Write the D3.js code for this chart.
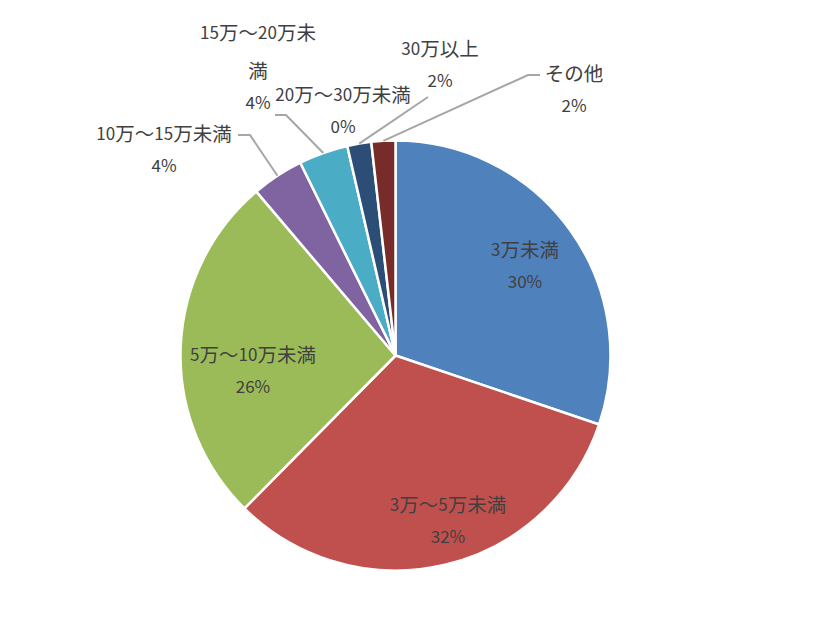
<!DOCTYPE html>
<html>
<head>
<meta charset="utf-8">
<script src="https://cdn.jsdelivr.net/npm/d3@7/dist/d3.min.js"></script>
<style>
  html, body { margin: 0; padding: 0; background: #fff; }
  svg { display: block; }
  text { font-family: "Noto Sans CJK JP", "Noto Sans", sans-serif; fill: #404040; }
</style>
</head>
<body>
<svg id="chart" width="840" height="617"></svg>
<script>
// ---- data ----
const categories = ["3万未満", "3万～5万未満", "5万～10万未満", "10万～15万未満", "15万～20万未満", "20万～30万未満", "30万以上", "その他"];
const values = [30.2, 32.2, 26.4, 3.9, 3.7, 0, 1.8, 1.8];
const percentLabels = ["30%", "32%", "26%", "4%", "4%", "0%", "2%", "2%"];
const colors = ["#4F81BD", "#C0504D", "#9BBB59", "#8064A2", "#4BACC6", "#F79646", "#2C4D75", "#772C2A"];

// ---- layout ----
const cx = 395.5, cy = 355.5, R = 215;
const labelLayout = [
  { lines: ["3万未満"], x: 525, y: 248 },
  { lines: ["3万～5万未満"], x: 448, y: 503 },
  { lines: ["5万～10万未満"], x: 253, y: 353 },
  { lines: ["10万～15万未満"], x: 164, y: 132, leader: [[238, 135], [250, 135]] },
  { lines: ["15万～20万未", "満"], x: 258, y: 31, lineGaps: [38], leader: [[275, 115], [286, 115]] },
  { lines: ["20万～30万未満"], x: 343, y: 93 },
  { lines: ["30万以上"], x: 440, y: 47, leader: [[428, 97]] },
  { lines: ["その他"], x: 574, y: 72, leader: [[540, 75], [528, 75]] }
];
const pctGap = 32;

const svg = d3.select("#chart");
const g = svg.append("g").attr("transform", `translate(${cx},${cy})`);

const pie = d3.pie().sort(null).value(d => d)(values);
const arc = d3.arc().innerRadius(0).outerRadius(R);
const edgeArc = d3.arc().innerRadius(R).outerRadius(R);

g.selectAll("path.slice")
  .data(pie.filter(d => d.value > 0))
  .join("path")
  .attr("class", "slice")
  .attr("d", arc)
  .attr("fill", d => colors[d.index])
  .attr("stroke", "#fff")
  .attr("stroke-width", 2.5)
  .attr("stroke-linejoin", "round");

// leader lines
const line = d3.line();
labelLayout.forEach((L, i) => {
  if (!L.leader) return;
  const c = edgeArc.centroid(pie[i]);
  const pts = L.leader.map(p => [p[0] - cx, p[1] - cy]).concat([[c[0], c[1]]]);
  g.append("path")
    .attr("d", line(pts))
    .attr("fill", "none")
    .attr("stroke", "#A6A6A6")
    .attr("stroke-width", 2);
});

// labels: ASCII runs smaller than CJK runs (mimics the original font metrics)
const fsAscii = 17, fsCjk = 19.5;
function addText(parent, x, y, s) {
  const t = parent.append("text")
    .attr("x", x).attr("y", y)
    .attr("text-anchor", "middle")
    .attr("dominant-baseline", "central");
  const runs = s.match(/[\x00-\x7F]+|[^\x00-\x7F]+/g) || [];
  runs.forEach(r => {
    t.append("tspan")
      .style("font-size", (/^[\x00-\x7F]+$/.test(r) ? fsAscii : fsCjk) + "px")
      .text(r);
  });
}
labelLayout.forEach((L, i) => {
  let y = L.y;
  const grp = svg.append("g");
  L.lines.forEach((s, k) => {
    if (k > 0) y += (L.lineGaps ? L.lineGaps[k - 1] : pctGap);
    addText(grp, L.x, y, s);
  });
  y += pctGap;
  addText(grp, L.x, y, percentLabels[i]);
});
</script>
</body>
</html>
